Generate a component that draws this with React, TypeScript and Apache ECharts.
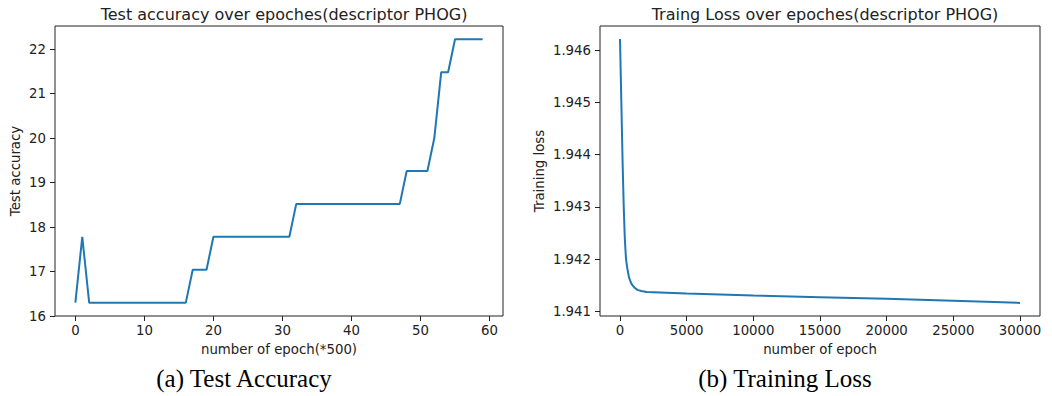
import React, { useEffect, useRef } from "react";
import * as echarts from "echarts";

// ---- Data ----
const accEpochs: number[] = [
  0, 1, 2, 3, 4, 5, 6, 7, 8, 9, 10, 11, 12, 13, 14, 15, 16, 17, 18, 19,
  20, 21, 22, 23, 24, 25, 26, 27, 28, 29, 30, 31, 32, 33, 34, 35, 36, 37, 38, 39,
  40, 41, 42, 43, 44, 45, 46, 47, 48, 49, 50, 51, 52, 53, 54, 55, 56, 57, 58, 59,
];
const accValues: number[] = [
  16.3, 17.78, 16.3, 16.3, 16.3, 16.3, 16.3, 16.3, 16.3, 16.3,
  16.3, 16.3, 16.3, 16.3, 16.3, 16.3, 16.3, 17.04, 17.04, 17.04,
  17.78, 17.78, 17.78, 17.78, 17.78, 17.78, 17.78, 17.78, 17.78, 17.78,
  17.78, 17.78, 18.52, 18.52, 18.52, 18.52, 18.52, 18.52, 18.52, 18.52,
  18.52, 18.52, 18.52, 18.52, 18.52, 18.52, 18.52, 18.52, 19.26, 19.26,
  19.26, 19.26, 20.0, 21.48, 21.48, 22.22, 22.22, 22.22, 22.22, 22.22,
];

const lossEpochs: number[] = [
  0, 100, 200, 280, 360, 450, 550, 675, 800, 925, 1100, 1300, 1600, 2000,
  5000, 10000, 15000, 20000, 25000, 30000,
];
const lossValues: number[] = [
  1.94621, 1.945, 1.9438, 1.943, 1.9424, 1.942, 1.94182, 1.94165, 1.94156, 1.9415,
  1.94145, 1.94141, 1.94139, 1.94137,
  1.94134, 1.9413, 1.94127, 1.94124, 1.9412, 1.94116,
];

const accXTicks: number[] = [0, 10, 20, 30, 40, 50, 60];
const accYTicks: number[] = [16, 17, 18, 19, 20, 21, 22];
const lossXTicks: number[] = [0, 5000, 10000, 15000, 20000, 25000, 30000];
const lossYTicks: number[] = [1.941, 1.942, 1.943, 1.944, 1.945, 1.946];

const titles: string[] = [
  "Test accuracy over epoches(descriptor PHOG)",
  "Traing Loss over epoches(descriptor PHOG)",
];
const xNames: string[] = ["number of epoch(*500)", "number of epoch"];
const yNames: string[] = ["Test accuracy", "Training loss"];
const captions: string[] = ["(a) Test Accuracy", "(b) Training Loss"];

const FONT = "DejaVu Sans";
const TEXT = "#222";
const FRAME = "#222";
const LINE = "#1f77b4";

export default function App() {
  const ref = useRef<HTMLDivElement>(null);

  useEffect(() => {
    if (!ref.current) return;
    const chart = echarts.init(ref.current, null, { renderer: "svg" });

    const tickStyle = { show: true, length: 5, inside: false, lineStyle: { color: FRAME, width: 1 } };
    const labelStyle = { color: TEXT, fontFamily: FONT, fontSize: 13.3 };
    const nameStyle = { color: TEXT, fontFamily: FONT, fontSize: 13.3 };
    const hiddenLine = { show: false, onZero: false };

    const accData = accEpochs.map((e, i) => [e, accValues[i]]);
    const lossData = lossEpochs.map((e, i) => [e, lossValues[i]]);

    chart.setOption({
      animation: false,
      backgroundColor: "#fff",
      title: [
        {
          text: titles[0],
          left: 279,
          top: 1,
          textAlign: "center",
          textStyle: { color: TEXT, fontFamily: FONT, fontSize: 16, fontWeight: "normal" },
        },
        {
          text: titles[1],
          left: 820,
          top: 1,
          textAlign: "center",
          textStyle: { color: TEXT, fontFamily: FONT, fontSize: 16, fontWeight: "normal" },
        },
      ],
      grid: [
        { left: 55, top: 26, width: 448, height: 290, show: true, borderColor: FRAME, borderWidth: 1, containLabel: false },
        { left: 600, top: 26, width: 440, height: 290, show: true, borderColor: FRAME, borderWidth: 1, containLabel: false },
      ],
      xAxis: [
        {
          gridIndex: 0,
          type: "value",
          min: -2.95,
          max: 61.95,
          name: xNames[0],
          nameLocation: "middle",
          nameGap: 27,
          nameTextStyle: nameStyle,
          axisLine: hiddenLine,
          axisTick: { ...tickStyle, customValues: accXTicks },
          axisLabel: { ...labelStyle, margin: 8, customValues: accXTicks, formatter: (v: number) => String(v) },
          splitLine: { show: false },
        },
        {
          gridIndex: 1,
          type: "value",
          min: -1500,
          max: 31500,
          name: xNames[1],
          nameLocation: "middle",
          nameGap: 27,
          nameTextStyle: nameStyle,
          axisLine: hiddenLine,
          axisTick: { ...tickStyle, customValues: lossXTicks },
          axisLabel: { ...labelStyle, margin: 8, customValues: lossXTicks, formatter: (v: number) => String(v) },
          splitLine: { show: false },
        },
      ],
      yAxis: [
        {
          gridIndex: 0,
          type: "value",
          min: 16.0,
          max: 22.518,
          name: yNames[0],
          nameLocation: "middle",
          nameGap: 33,
          nameTextStyle: nameStyle,
          axisLine: hiddenLine,
          axisTick: { ...tickStyle, customValues: accYTicks },
          axisLabel: { ...labelStyle, margin: 9, customValues: accYTicks, formatter: (v: number) => String(v) },
          splitLine: { show: false },
        },
        {
          gridIndex: 1,
          type: "value",
          min: 1.94091,
          max: 1.94646,
          name: yNames[1],
          nameLocation: "middle",
          nameGap: 54,
          nameTextStyle: nameStyle,
          axisLine: hiddenLine,
          axisTick: { ...tickStyle, customValues: lossYTicks },
          axisLabel: {
            ...labelStyle,
            margin: 9,
            customValues: lossYTicks,
            formatter: (v: number) => v.toFixed(3),
          },
          splitLine: { show: false },
        },
      ],
      series: [
        {
          type: "line",
          xAxisIndex: 0,
          yAxisIndex: 0,
          data: accData,
          showSymbol: false,
          symbol: "none",
          lineStyle: { color: LINE, width: 2 },
        },
        {
          type: "line",
          xAxisIndex: 1,
          yAxisIndex: 1,
          data: lossData,
          showSymbol: false,
          symbol: "none",
          lineStyle: { color: LINE, width: 2 },
        },
      ],
      graphic: [
        {
          type: "text",
          x: 244,
          y: 378,
          style: {
            text: captions[0],
            fill: "#000",
            font: '25px "Liberation Serif"',
            textAlign: "center",
            textVerticalAlign: "middle",
          },
        },
        {
          type: "text",
          x: 785,
          y: 378,
          style: {
            text: captions[1],
            fill: "#000",
            font: '25px "Liberation Serif"',
            textAlign: "center",
            textVerticalAlign: "middle",
          },
        },
      ],
    });

    return () => chart.dispose();
  }, []);

  return (
    <div
      ref={ref}
      style={{ position: "absolute", left: 0, top: 0, width: 1052, height: 396, background: "#fff" }}
    />
  );
}
